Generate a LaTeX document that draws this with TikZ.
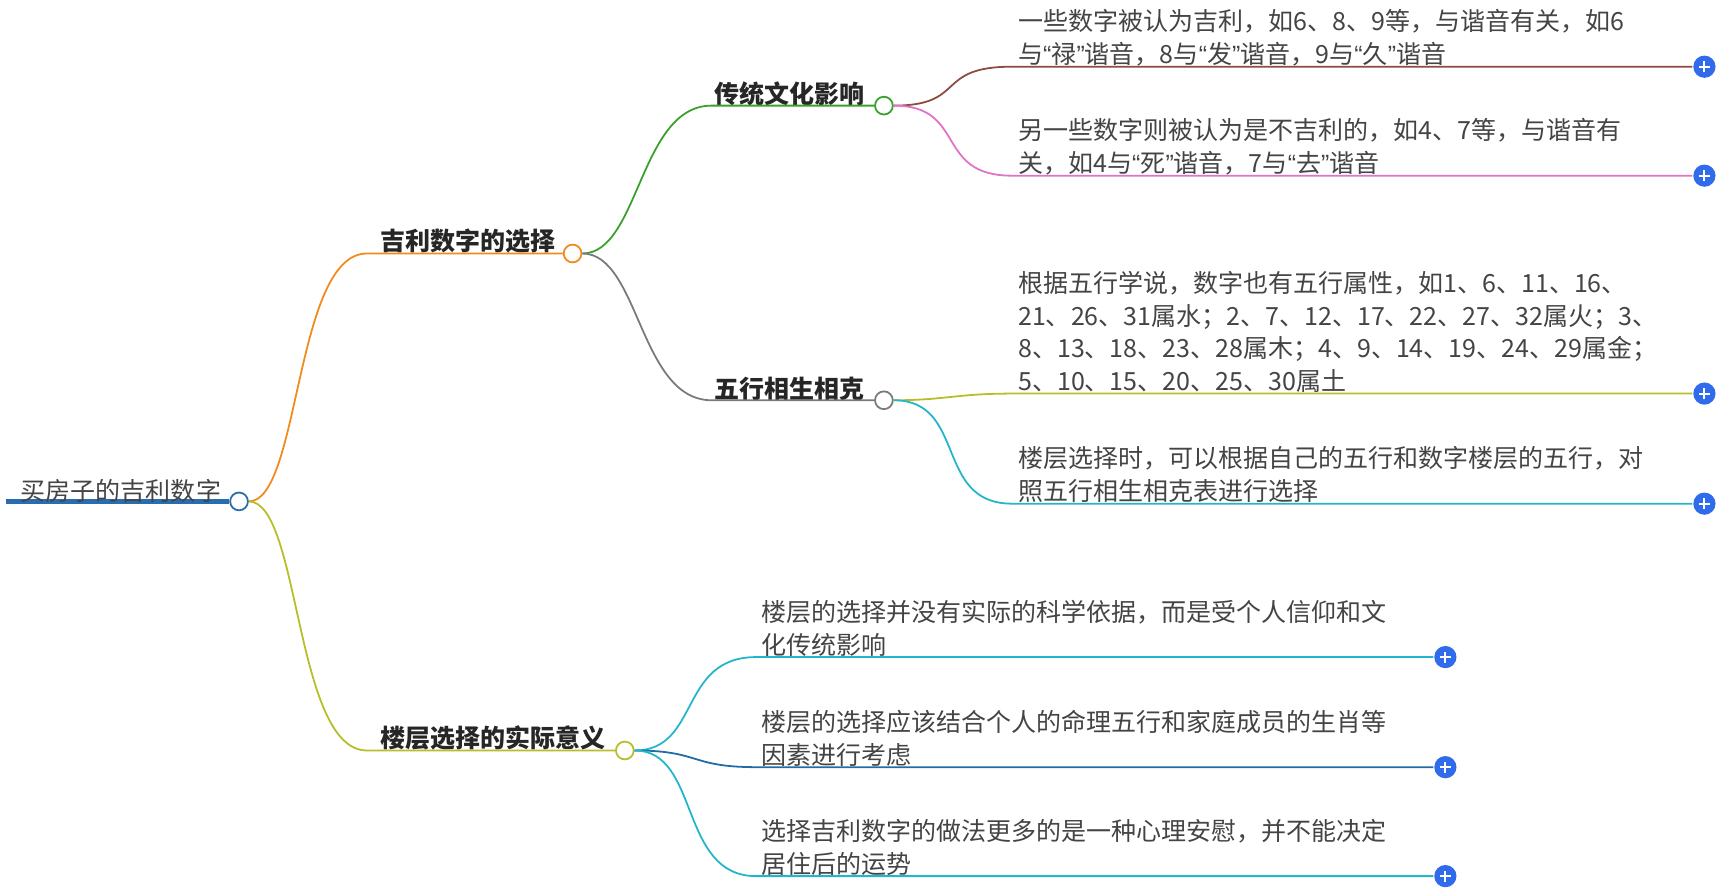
\documentclass[tikz,border=0pt]{standalone}
\usepackage{fontspec}
\setmainfont{Noto Sans CJK SC}
\newfontfamily\latinq{Liberation Sans}
\newcommand{\oq}{{\latinq “}}
\newcommand{\cq}{{\latinq ”}}
\usetikzlibrary{positioning,calc}
\definecolor{cRoot}{HTML}{2A6DAE}
\definecolor{cOrange}{HTML}{F28A1E}
\definecolor{cGreen}{HTML}{3AA02C}
\definecolor{cGray}{HTML}{7A7A7A}
\definecolor{cBrown}{HTML}{8C4B3E}
\definecolor{cPink}{HTML}{E272C6}
\definecolor{cOlive}{HTML}{B7BE2A}
\definecolor{cCyan}{HTML}{22B5CB}
\definecolor{cNavy}{HTML}{1F6CA6}
\definecolor{cPlus}{HTML}{2F6BEA}
\definecolor{cText}{HTML}{444444}

\begin{document}
\begin{tikzpicture}[x=1pt,y=-1pt,line width=1.6pt]
\tikzstyle{every node}+=[inner sep=0pt]
\tikzstyle{knob}=[circle,draw,fill=white,minimum size=16pt,line width=1.6pt]
\tikzstyle{plus}=[circle,fill=cPlus,minimum size=20pt,path picture={
  \draw[white,line width=1.8pt] ($(path picture bounding box.center)+(-5pt,0)$) -- ($(path picture bounding box.center)+(5pt,0)$)
  ($(path picture bounding box.center)+(0,-5pt)$) -- ($(path picture bounding box.center)+(0,5pt)$);}]
\tikzstyle{topic}=[font=\fontsize{22.5}{28}\selectfont\bfseries,text=black!85,anchor=south west]
\tikzstyle{leaf}=[font=\fontsize{22.5}{29.5}\selectfont,text=cText,align=left,anchor=south west]
\useasboundingbox (0,0) rectangle (1556,799);
% root
\node[knob,draw=cRoot] (r) at (215,451) {};
\draw[cRoot,line width=4pt] (5,451) -- (r);
\node[leaf,anchor=south west] (rt) at (18,453) {买房子的吉利数字};
% first level
\node[knob,draw=cOrange] (a) at (515,228) {};
\node[knob,draw=cOlive] (b) at (562,675) {};
\node[topic] (at) at (341,229) {吉利数字的选择};
\node[topic] (bt) at (341,676) {楼层选择的实际意义};
\draw[cOrange] (r) .. controls (270,451) and (265,228) .. (330,228) -- (a);
\draw[cOlive] (r) .. controls (270,451) and (265,675) .. (330,675) -- (b);
% second level
\node[knob,draw=cGreen] (a1) at (795,95) {};
\node[knob,draw=cGray] (a2) at (795,360) {};
\node[topic] (a1t) at (642,96) {传统文化影响};
\node[topic] (a2t) at (642,361) {五行相生相克};
\draw[cGreen] (a) .. controls (575,228) and (575,95) .. (640,95) -- (a1);
\draw[cGray] (a) .. controls (575,228) and (575,360) .. (640,360) -- (a2);
% leaves
\node[plus] (p1) at (1533,60) {};
\node[plus] (p2) at (1533,158) {};
\node[plus] (p3) at (1533,354) {};
\node[plus] (p4) at (1533,453) {};
\node[plus] (p5) at (1300,591) {};
\node[plus] (p6) at (1300,690) {};
\node[plus] (p7) at (1300,788) {};
\node[leaf] (l1) at (915,60) {一些数字被认为吉利，如6、8、9等，与谐音有关，如6\\与\oq 禄\cq 谐音，8与\oq 发\cq 谐音，9与\oq 久\cq 谐音};
\node[leaf] (l2) at (915,158) {另一些数字则被认为是不吉利的，如4、7等，与谐音有\\关，如4与\oq 死\cq 谐音，7与\oq 去\cq 谐音};
\node[leaf] (l3) at (915,354) {根据五行学说，数字也有五行属性，如1、6、11、16、\\21、26、31属水；2、7、12、17、22、27、32属火；3、\\8、13、18、23、28属木；4、9、14、19、24、29属金；\\5、10、15、20、25、30属土};
\node[leaf] (l4) at (915,453) {楼层选择时，可以根据自己的五行和数字楼层的五行，对\\照五行相生相克表进行选择};
\node[leaf] (l5) at (684,591) {楼层的选择并没有实际的科学依据，而是受个人信仰和文\\化传统影响};
\node[leaf] (l6) at (684,690) {楼层的选择应该结合个人的命理五行和家庭成员的生肖等\\因素进行考虑};
\node[leaf] (l7) at (684,788) {选择吉利数字的做法更多的是一种心理安慰，并不能决定\\居住后的运势};
\draw[cBrown] (a1) .. controls (870,95) and (840,60) .. (910,60) -- (p1);
\draw[cPink] (a1) .. controls (870,95) and (840,158) .. (910,158) -- (p2);
\draw[cOlive] (a2) .. controls (850,360) and (860,354) .. (910,354) -- (p3);
\draw[cCyan] (a2) .. controls (870,360) and (840,453) .. (910,453) -- (p4);
\draw[cCyan] (b) .. controls (630,675) and (610,591) .. (680,591) -- (p5);
\draw[cNavy] (b) .. controls (630,675) and (620,690) .. (680,690) -- (p6);
\draw[cCyan] (b) .. controls (630,675) and (610,788) .. (680,788) -- (p7);
\end{tikzpicture}
\end{document}
